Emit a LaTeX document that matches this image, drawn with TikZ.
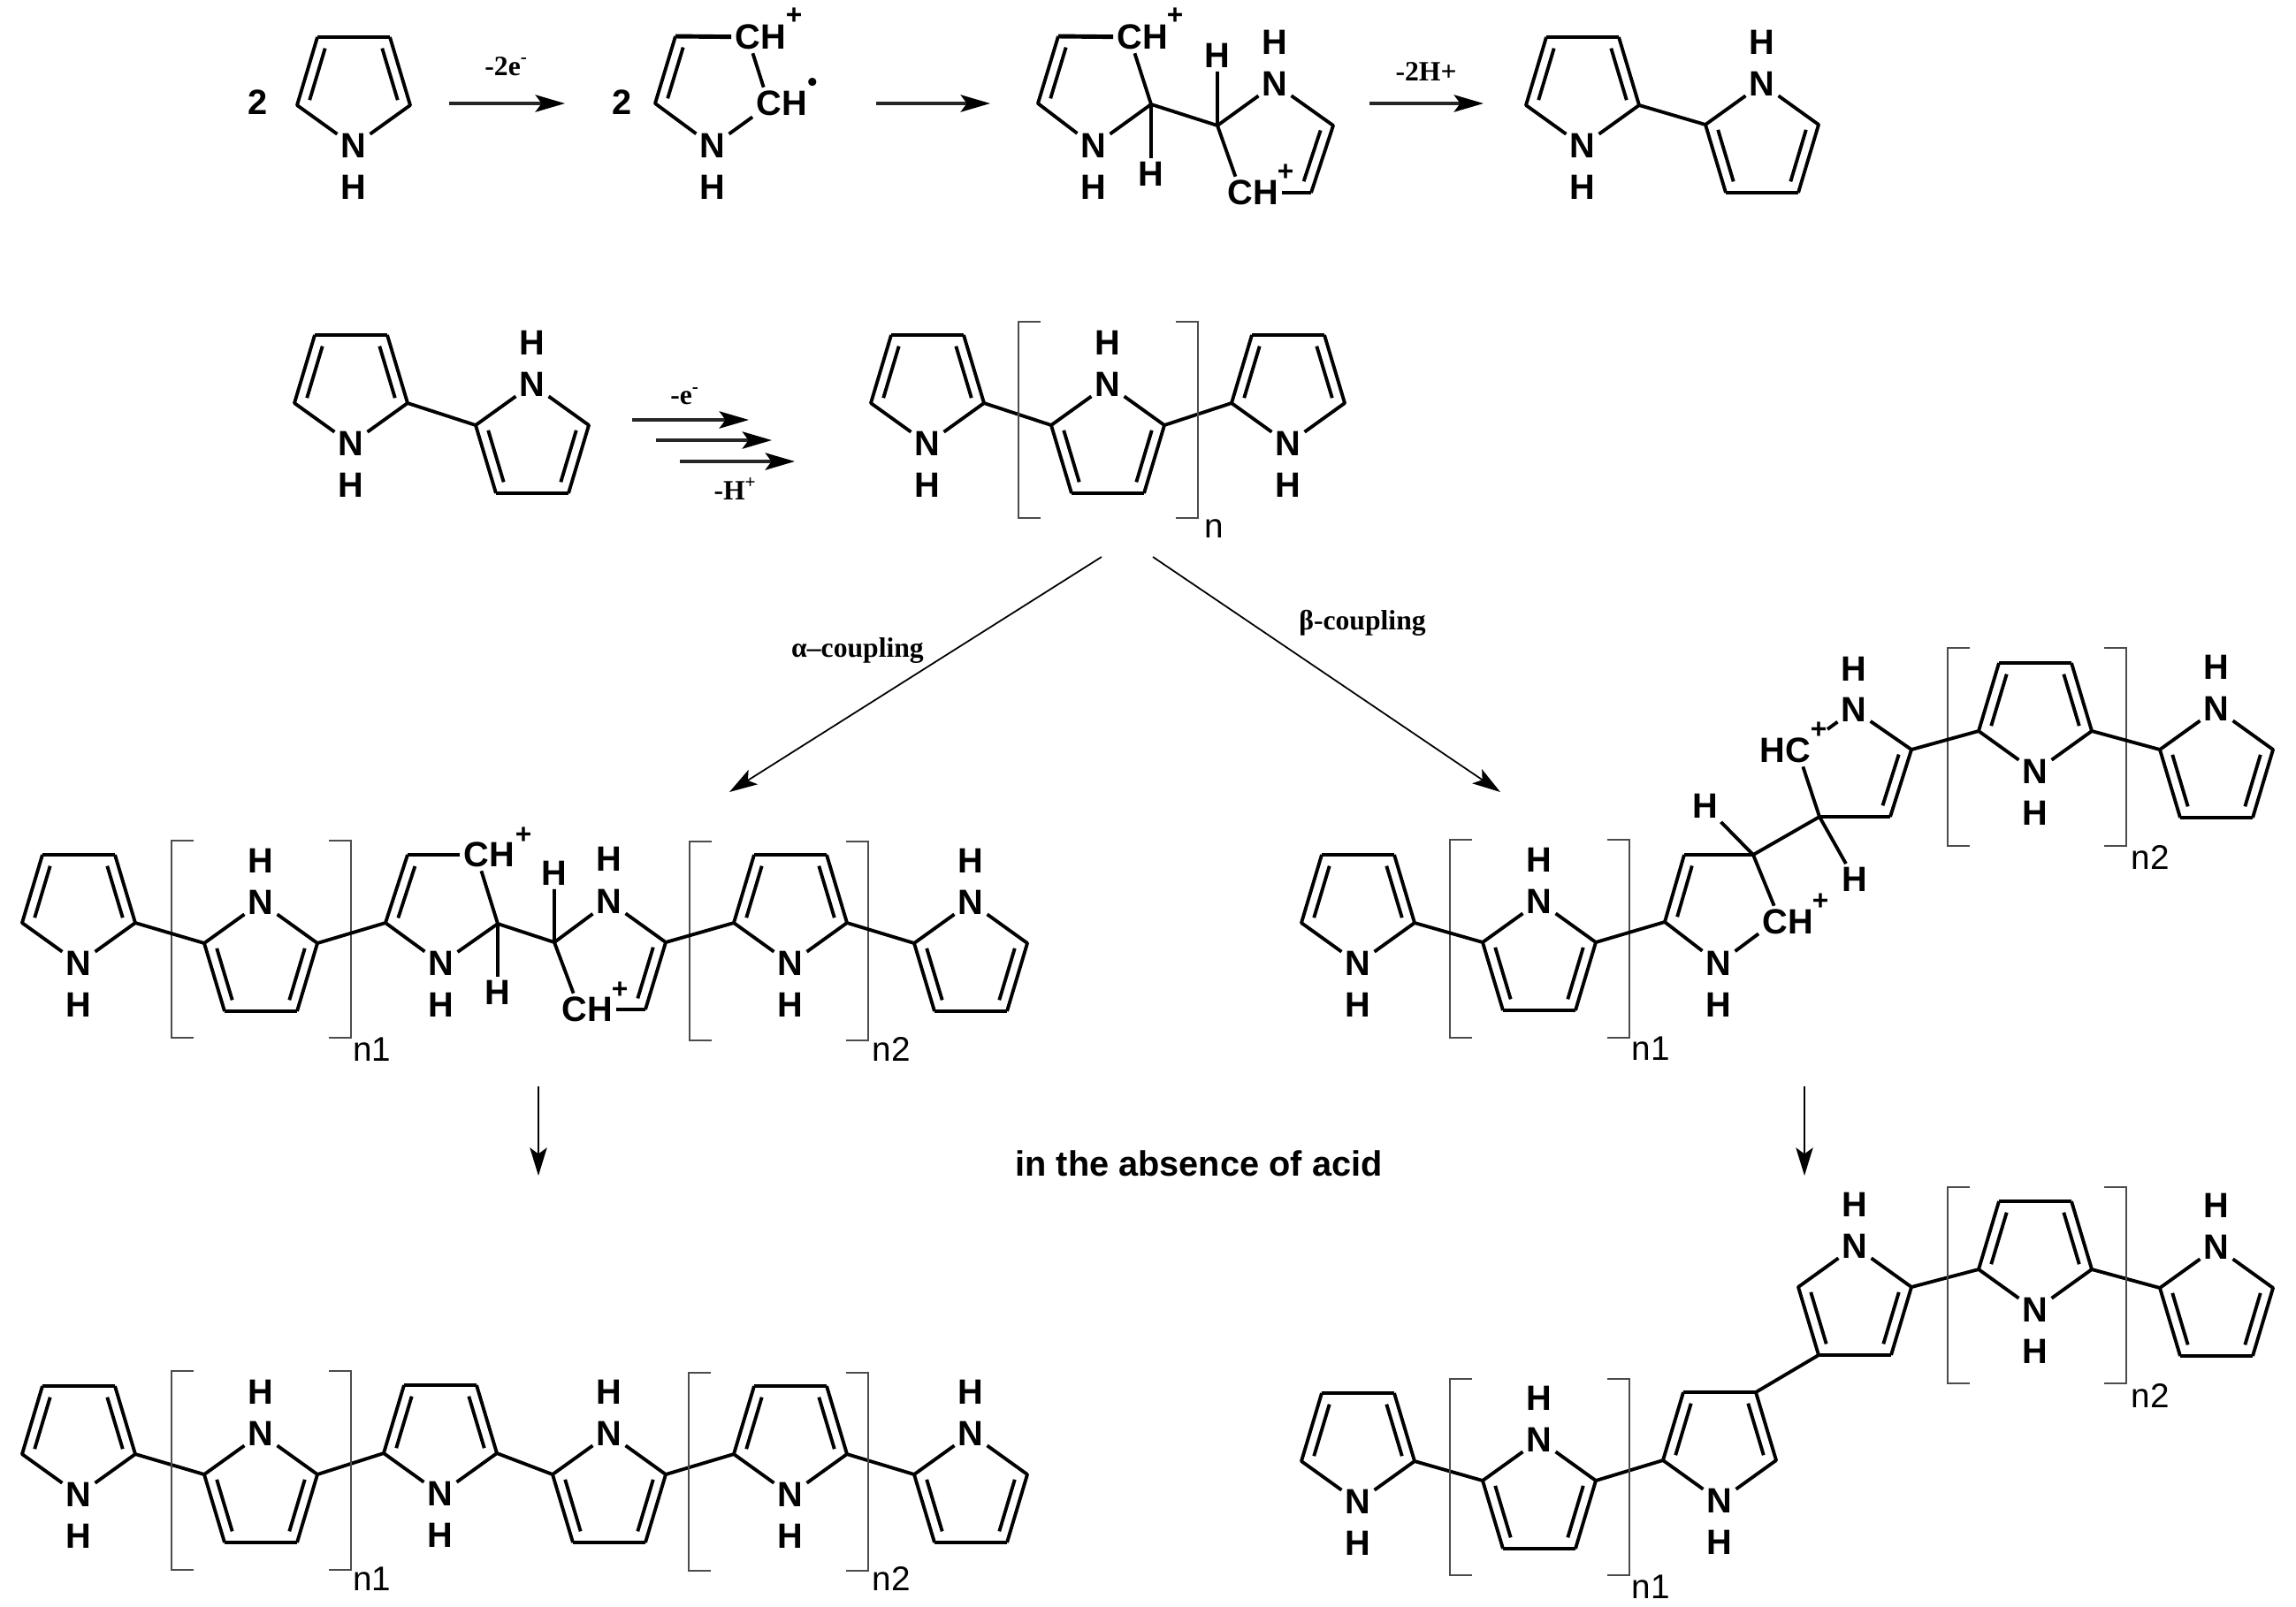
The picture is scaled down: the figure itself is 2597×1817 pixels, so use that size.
\documentclass[tikz,border=0pt]{standalone}
\usepackage{fontspec}
\setmainfont{Liberation Sans}
\newfontfamily\labfont{Liberation Serif}
\usetikzlibrary{calc, arrows.meta}

\tikzset{
  atom/.style={inner sep=1pt, font=\fontsize{11.3}{13}\selectfont\bfseries},
  chg/.style={inner sep=0pt, font=\fontsize{9}{10}\selectfont\bfseries},
  sublab/.style={inner sep=0pt, font=\fontsize{11}{13}\selectfont},
  rxnlab/.style={inner sep=0pt, font=\labfont\fontsize{9}{10}\selectfont\bfseries},
  bond/.style={line width=1.1pt, line join=round},
  hbond/.style={line width=1.4pt, line join=round},
  bracket/.style={line width=0.75pt, black!70},
  rxnarrow/.style={line width=1pt, black!85, -{Stealth[length=9.5pt,width=5.5pt,inset=2pt,black]}},
  thinarrow/.style={line width=0.5pt, -{Stealth[length=9pt,width=5.5pt,inset=2pt]}}
}

\def\innersep{3.4pt}

% inner line of a double bond, always walk the ring clockwise
\newcommand{\innerbond}[2]{%
  \draw[bond] ($(#1)!.12!(#2)!\innersep!-90:(#2)$) -- ($(#2)!.12!(#1)!\innersep!90:(#1)$);}

% pyrrole with N at the bottom: name, x, y of N
\newcommand{\pyrdown}[3]{%
  \node[atom] (#1-N) at (#2,#3) {N};
  \node[atom] (#1-H) at (#2,#3+47) {H};
  \coordinate (#1-L) at (#2-64,#3-46);
  \coordinate (#1-R) at (#2+64,#3-46);
  \coordinate (#1-TL) at (#2-41,#3-123);
  \coordinate (#1-TR) at (#2+41,#3-123);
  \draw[bond] (#1-N) -- (#1-L) -- (#1-TL);
  \draw[bond] (#1-TR) -- (#1-R) -- (#1-N);
  \draw[hbond] (#1-TL) -- (#1-TR);
  \innerbond{#1-L}{#1-TL}
  \innerbond{#1-TR}{#1-R}
}

% pyrrole with N at the top
\newcommand{\pyrup}[3]{%
  \node[atom] (#1-N) at (#2,#3) {N};
  \node[atom] (#1-H) at (#2,#3-47) {H};
  \coordinate (#1-L) at (#2-64,#3+46);
  \coordinate (#1-R) at (#2+64,#3+46);
  \coordinate (#1-BL) at (#2-41,#3+123);
  \coordinate (#1-BR) at (#2+41,#3+123);
  \draw[bond] (#1-N) -- (#1-L) -- (#1-BL);
  \draw[bond] (#1-BR) -- (#1-R) -- (#1-N);
  \draw[hbond] (#1-BL) -- (#1-BR);
  \innerbond{#1-BL}{#1-L}
  \innerbond{#1-R}{#1-BR}
}

% repeat bracket: x left, x right, y top, y bottom
\newcommand{\repbracket}[4]{%
  \draw[bracket] (#1+25,#3) -- (#1,#3) -- (#1,#4) -- (#1+25,#4);
  \draw[bracket] (#2-25,#3) -- (#2,#3) -- (#2,#4) -- (#2-25,#4);
}

\begin{document}
\begin{tikzpicture}[x=0.01cm, y=-0.01cm]

  \useasboundingbox (0,0) rectangle (2597,1817);

  % ---- first line: dimer formation ----
  \node[atom] (two1) at (292,116) {2};
  \pyrdown{t1}{400}{165}

  \coordinate (ar1s) at (508,117);
  \coordinate (ar1e) at (639,117);
  \draw[rxnarrow] (ar1s) -- (ar1e);
  \node[rxnlab] (ar1lab) at (573,75) {-2e\textsuperscript{-}};

  % radical cation
  \node[atom] (two2) at (704,116) {2};
  \coordinate (u-L) at (741,117);
  \coordinate (u-TL) at (764,41);
  \node[atom] (u-N) at (806,165) {N};
  \node[atom] (u-H) at (806,212) {H};
  \node[atom] (u-Ca) at (860,42) {CH};
  \node[atom] (u-Cb) at (884,117) {CH};
  \node[chg] (u-plus) at (898,18) {+};
  \node[chg] (u-dot) at (919,96) {•};
  \draw[bond] (u-N) -- (u-L) -- (u-TL);
  \draw[hbond] (u-TL) -- (u-Ca);
  \draw[bond] (u-Ca.245) -- (u-Cb.138);
  \draw[bond] (u-N) -- (u-Cb.205);
  \innerbond{u-L}{u-TL}

  \coordinate (ar2s) at (991,117);
  \coordinate (ar2e) at (1120,117);
  \draw[rxnarrow] (ar2s) -- (ar2e);

  % dication dimer
  \coordinate (d-L) at (1174,117);
  \coordinate (d-TL) at (1197,41);
  \coordinate (d-C) at (1302,118);
  \coordinate (d-Cb) at (1377,142);
  \coordinate (d-R) at (1508,142);
  \coordinate (d-BR) at (1483,218);
  \node[atom] (d-N) at (1237,165) {N};
  \node[atom] (d-NH) at (1237,212) {H};
  \node[atom] (d-Ca) at (1292,42) {CH};
  \node[chg] (d-pa) at (1329,18) {+};
  \node[atom] (d-Ha) at (1302,197) {H};
  \node[atom] (d-Hb) at (1377,63) {H};
  \node[atom] (d-Nb) at (1442,95) {N};
  \node[atom] (d-NbH) at (1442,48) {H};
  \node[atom] (d-Cc) at (1417,218) {CH};
  \node[chg] (d-pb) at (1454,195) {+};
  \draw[bond] (d-N) -- (d-L) -- (d-TL);
  \draw[hbond] (d-TL) -- (d-Ca);
  \draw[bond] (d-Ca.245) -- (d-C) -- (d-N);
  \draw[bond] (d-C) -- (d-Ha);
  \draw[bond] (d-C) -- (d-Cb) -- (d-Hb);
  \draw[bond] (d-Cb) -- (d-Nb) -- (d-R) -- (d-BR);
  \draw[hbond] (d-BR) -- (d-Cc);
  \draw[bond] (d-Cb) -- (d-Cc.137);
  \innerbond{d-L}{d-TL}
  \innerbond{d-R}{d-BR}

  \coordinate (ar3s) at (1549,117);
  \coordinate (ar3e) at (1678,117);
  \draw[rxnarrow] (ar3s) -- (ar3e);
  \node[rxnlab] (ar3lab) at (1613,81) {-2H+};

  \pyrdown{t5}{1790}{165}
  \pyrup{t6}{1993}{95}
  \draw[bond] (t5-R) -- (t6-L);

  % ---- second line: polymer ----
  \pyrdown{s1}{397}{502}
  \pyrup{s2}{602}{435}
  \draw[bond] (s1-R) -- (s2-L);

  \coordinate (ar4s) at (715,475);
  \coordinate (ar4e) at (847,475);
  \coordinate (ar5s) at (742,498);
  \coordinate (ar5e) at (873,498);
  \coordinate (ar6s) at (769,522);
  \coordinate (ar6e) at (899,522);
  \foreach \i in {4,5,6}
    \draw[rxnarrow] (ar\i s) -- (ar\i e);
  \node[rxnlab] (ar4lab) at (775,448) {-e\textsuperscript{-}};
  \node[rxnlab] (ar6lab) at (832,553) {-H\textsuperscript{+}};

  \pyrdown{s3}{1049}{502}
  \pyrup{s4}{1253}{435}
  \pyrdown{s5}{1457}{502}
  \draw[bond] (s3-R) -- (s4-L);
  \draw[bond] (s4-R) -- (s5-L);
  \repbracket{1152}{1355}{364}{586}
  \node[sublab] (sn) at (1373,598) {n};

  % coupling arrows
  \coordinate (cpas) at (1246,630);
  \coordinate (cpae) at (825,896);
  \coordinate (cpbs) at (1304,630);
  \coordinate (cpbe) at (1697,896);
  \draw[thinarrow] (cpas) -- (cpae);
  \draw[thinarrow] (cpbs) -- (cpbe);
  \node[rxnlab] (cpalab) at (970,736) {α\textendash coupling};
  \node[rxnlab] (cpblab) at (1541,705) {β-coupling};

  % ---- alpha coupled cation ----
  \pyrdown{a1}{89}{1090}
  \pyrup{a2}{295}{1021}
  \repbracket{194}{397}{951}{1174}
  \node[sublab] (an1) at (421,1187) {n1};

  \coordinate (m-L) at (436,1044);
  \coordinate (m-TL) at (461,967);
  \coordinate (m-C) at (563,1045);
  \coordinate (m-Cb) at (627,1066);
  \coordinate (m-R) at (753,1066);
  \coordinate (m-BR) at (730,1142);
  \node[atom] (m-N) at (499,1090) {N};
  \node[atom] (m-NH) at (499,1137) {H};
  \node[atom] (m-Ca) at (553,967) {CH};
  \node[chg] (m-pa) at (592,945) {+};
  \node[atom] (m-Ha) at (563,1123) {H};
  \node[atom] (m-Hb) at (627,988) {H};
  \node[atom] (m-Nb) at (689,1020) {N};
  \node[atom] (m-NbH) at (689,972) {H};
  \node[atom] (m-Cc) at (664,1142) {CH};
  \node[chg] (m-pb) at (701,1120) {+};
  \draw[bond] (m-N) -- (m-L) -- (m-TL);
  \draw[hbond] (m-TL) -- (m-Ca);
  \draw[bond] (m-Ca.245) -- (m-C) -- (m-N);
  \draw[bond] (m-C) -- (m-Ha);
  \draw[bond] (m-C) -- (m-Cb) -- (m-Hb);
  \draw[bond] (m-Cb) -- (m-Nb) -- (m-R) -- (m-BR);
  \draw[hbond] (m-BR) -- (m-Cc);
  \draw[bond] (m-Cb) -- (m-Cc.130);
  \innerbond{m-L}{m-TL}
  \innerbond{m-R}{m-BR}

  \pyrdown{a5}{894}{1090}
  \pyrup{a6}{1098}{1021}
  \repbracket{780}{982}{952}{1177}
  \node[sublab] (an2) at (1008,1187) {n2};
  \draw[bond] (a1-R) -- (a2-L);
  \draw[bond] (a2-R) -- (m-L);
  \draw[bond] (m-R) -- (a5-L);
  \draw[bond] (a5-R) -- (a6-L);

  % ---- beta coupled cation ----
  \pyrdown{b1}{1536}{1090}
  \pyrup{b2}{1741}{1020}
  \repbracket{1640}{1843}{950}{1174}
  \node[sublab] (bn1) at (1867,1186) {n1};

  \coordinate (r-L) at (1883,1043);
  \coordinate (r-TL) at (1905,967);
  \coordinate (r-C) at (1983,967);
  \coordinate (r-Cb) at (2058,924);
  \coordinate (r-BR) at (2138,924);
  \coordinate (r-R) at (2162,848);
  \coordinate (r-HCe) at (2067,825);
  \node[atom] (r-N) at (1944,1090) {N};
  \node[atom] (r-NH) at (1944,1137) {H};
  \node[atom] (r-CH) at (2022,1043) {CH};
  \node[chg] (r-pa) at (2059,1020) {+};
  \node[atom] (r-Ha) at (1929,912) {H};
  \node[atom] (r-Hb) at (2098,995) {H};
  \node[atom] (r-HC) at (2019,849) {HC};
  \node[chg] (r-pb) at (2057,826) {+};
  \node[atom] (r-Nb) at (2097,803) {N};
  \node[atom] (r-NbH) at (2097,757) {H};
  \draw[bond] (r-N) -- (r-L) -- (r-TL);
  \draw[hbond] (r-TL) -- (r-C);
  \draw[bond] (r-C) -- (r-CH.130);
  \draw[bond] (r-CH.202) -- (r-N);
  \draw[bond] (r-C) -- (r-Ha);
  \draw[bond] (r-C) -- (r-Cb) -- (r-Hb);
  \draw[hbond] (r-Cb) -- (r-BR);
  \draw[bond] (r-BR) -- (r-R) -- (r-Nb);
  \draw[bond] (r-Cb) -- (r-HC.318);
  \draw[bond] (r-HCe) -- (r-Nb);
  \innerbond{r-L}{r-TL}
  \innerbond{r-R}{r-BR}

  \pyrdown{b5}{2302}{873}
  \pyrup{b6}{2507}{802}
  \repbracket{2203}{2405}{733}{957}
  \node[sublab] (bn2) at (2432,970) {n2};
  \draw[bond] (b1-R) -- (b2-L);
  \draw[bond] (b2-R) -- (r-L);
  \draw[bond] (r-R) -- (b5-L);
  \draw[bond] (b5-R) -- (b6-L);

  % down arrows
  \coordinate (dnas) at (609,1229);
  \coordinate (dnae) at (609,1330);
  \coordinate (dnbs) at (2041,1229);
  \coordinate (dnbe) at (2041,1330);
  \draw[thinarrow] (dnas) -- (dnae);
  \draw[thinarrow] (dnbs) -- (dnbe);
  \node[atom] (acid) at (1356,1316) {in the absence of acid};

  % ---- alpha coupled polymer ----
  \pyrdown{c1}{89}{1691}
  \pyrup{c2}{295}{1622}
  \pyrdown{c3}{498}{1690}
  \pyrup{c4}{689}{1622}
  \pyrdown{c5}{894}{1691}
  \pyrup{c6}{1098}{1622}
  \foreach \p/\q in {c1/c2,c2/c3,c3/c4,c4/c5,c5/c6}
    \draw[bond] (\p-R) -- (\q-L);
  \repbracket{194}{397}{1551}{1776}
  \repbracket{779}{982}{1553}{1777}
  \node[sublab] (cn1) at (421,1786) {n1};
  \node[sublab] (cn2) at (1008,1786) {n2};

  % ---- beta coupled polymer ----
  \pyrdown{e1}{1536}{1699}
  \pyrup{e2}{1741}{1629}
  \pyrdown{e3}{1945}{1698}
  \pyrup{e4}{2098}{1410}
  \pyrdown{e5}{2302}{1482}
  \pyrup{e6}{2507}{1411}
  \draw[bond] (e1-R) -- (e2-L);
  \draw[bond] (e2-R) -- (e3-L);
  \draw[bond] (e3-TR) -- (e4-BL);
  \draw[bond] (e4-R) -- (e5-L);
  \draw[bond] (e5-R) -- (e6-L);
  \repbracket{1640}{1843}{1560}{1782}
  \repbracket{2203}{2405}{1343}{1565}
  \node[sublab] (en1) at (1867,1795) {n1};
  \node[sublab] (en2) at (2432,1579) {n2};

\end{tikzpicture}
\end{document}
